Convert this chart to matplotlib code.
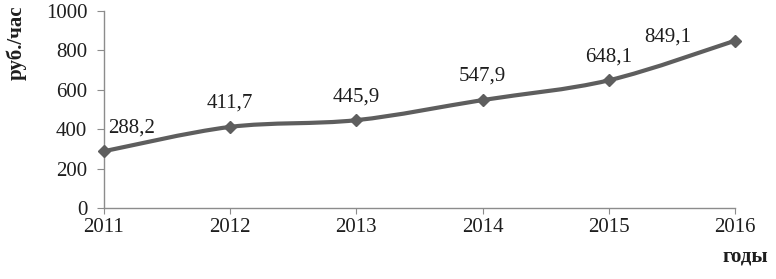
import numpy as np
import matplotlib
matplotlib.use("Agg")
import matplotlib.pyplot as plt
from matplotlib.path import Path
from matplotlib.patches import PathPatch

years = [2011, 2012, 2013, 2014, 2015, 2016]
values = [288.2, 411.7, 445.9, 547.9, 648.1, 849.1]
labels = ["288,2", "411,7", "445,9", "547,9", "648,1", "849,1"]
yticks = [0, 200, 400, 600, 800, 1000]

LINE = "#5e5e5e"
AXIS = "#8c8c8c"
TEXT = "#1e1e1e"

plt.rcParams["font.family"] = ["Liberation Serif", "DejaVu Serif"]

fig = plt.figure(figsize=(7.76, 2.79), dpi=100)
ax = fig.add_axes([0.134, 0.2545, 0.813, 0.706])

# smoothed line (Excel-like cubic Bezier through the points)
x = np.array(years, dtype=float)
y = np.array(values, dtype=float)
verts = [(x[0], y[0])]
codes = [Path.MOVETO]
t = 1 / 6
for i in range(len(x) - 1):
    p0 = (x[i - 1], y[i - 1]) if i > 0 else (x[i], y[i])
    p3 = (x[i + 2], y[i + 2]) if i + 2 < len(x) else (x[i + 1], y[i + 1])
    c1 = (x[i] + (x[i + 1] - p0[0]) * t, y[i] + (y[i + 1] - p0[1]) * t)
    c2 = (x[i + 1] - (p3[0] - x[i]) * t, y[i + 1] - (p3[1] - y[i]) * t)
    verts += [c1, c2, (x[i + 1], y[i + 1])]
    codes += [Path.CURVE4] * 3
ax.add_patch(PathPatch(Path(verts, codes), facecolor="none", edgecolor=LINE,
                       lw=3, capstyle="round", joinstyle="round", zorder=3))
ax.plot(years, values, ls="none", marker="D", ms=6.5, color=LINE, zorder=4,
        clip_on=False)

offsets = [(20, 17), (0, 17), (0, 17), (0, 17), (0, 17), (-48, 3)]
for xv, yv, lab, off in zip(years, values, labels, offsets):
    ax.annotate(lab, (xv, yv), xytext=off, textcoords="offset points",
                ha="center", va="center", fontsize=15, color=TEXT)

ax.set_xlim(2011, 2016)
ax.set_ylim(0, 1000)
ax.set_xticks(years)
ax.set_yticks(yticks)
ax.tick_params(axis="both", labelsize=15, colors=AXIS, labelcolor=TEXT,
               direction="out")
ax.tick_params(axis="y", length=5, pad=7)
ax.tick_params(axis="x", length=4, pad=3)
for s in ["top", "right"]:
    ax.spines[s].set_visible(False)
for s in ["left", "bottom"]:
    ax.spines[s].set_color(AXIS)
    ax.spines[s].set_linewidth(1)

ax.set_ylabel("руб./час", fontsize=15, fontweight="bold", color=TEXT)
ax.yaxis.set_label_coords(-0.122, 0.84)
fig.text(0.99, 0.08, "годы", fontsize=15, fontweight="bold", color=TEXT,
         ha="right", va="center")

fig.savefig("out.png", dpi=100, facecolor="white")
